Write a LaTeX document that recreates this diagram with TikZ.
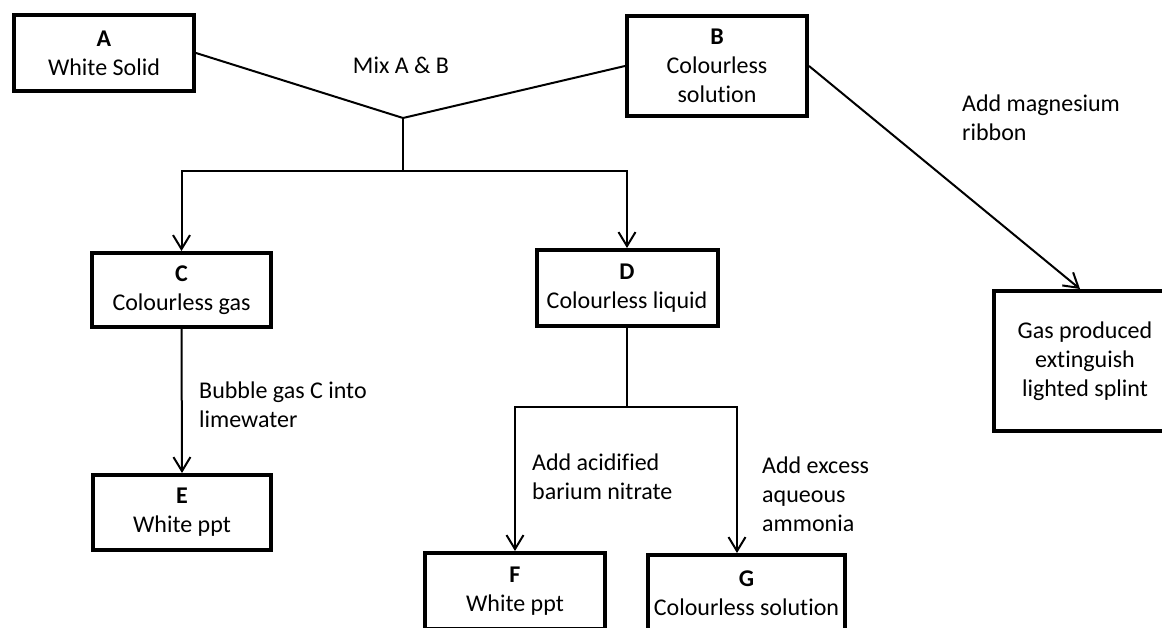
\documentclass[tikz,border=0pt]{standalone}
\usepackage{fontspec}
\setmainfont{Carlito}[Ligatures=NoCommon]
\usetikzlibrary{arrows.meta,positioning,calc}
\tikzset{
  stagebox/.style={draw=black,line width=4pt,align=center,inner sep=0pt,
    font=\fontsize{24}{29}\selectfont},
  flowline/.style={line width=2pt,draw=black},
  flowarrow/.style={-{Straight Barb[length=14pt,width=17pt,line width=2pt]},
    line width=2pt,draw=black},
  steplabel/.style={align=left,inner sep=0pt,anchor=west,
    font=\fontsize{24}{29}\selectfont},
}
\begin{document}
\begin{tikzpicture}[x=1pt,y=-1pt]
  \useasboundingbox (0,0) rectangle (1162,628);
  \node[stagebox,minimum width=180pt,minimum height=76pt] (solidA) at (104,53)
    {\textbf{A}\\White Solid};
  \node[stagebox,minimum width=180pt,minimum height=100pt] (solnB) at (717,66)
    {\textbf{B}\\Colourless\\solution};
  \node[stagebox,minimum width=179pt,minimum height=74pt] (gasC) at (181.5,290)
    {\textbf{C}\\Colourless gas};
  \node[stagebox,minimum width=181pt,minimum height=76pt] (liqD) at (627,288)
    {\textbf{D}\\Colourless liquid};
  \node[stagebox,minimum width=178pt,minimum height=75pt] (pptE) at (182,512.5)
    {\textbf{E}\\White ppt};
  \node[stagebox,minimum width=180pt,minimum height=76pt] (pptF) at (515,591)
    {\textbf{F}\\White ppt};
  \node[stagebox,minimum width=197pt,minimum height=76pt] (solnG) at (746.5,593)
    {\textbf{G}\\Colourless solution};
  \node[stagebox,minimum width=182pt,minimum height=140pt] (splint) at (1085,361)
    {Gas produced\\extinguish\\lighted splint};
  \coordinate (mix) at (403,118);
  \coordinate (split) at (403,171);
  \coordinate (dsplit) at (627,407);
  \draw[flowline] (solidA.east) -- (mix) -- (solnB.west);
  \draw[flowline] (mix) -- (split);
  \draw[flowarrow] (split) -| (gasC.north);
  \draw[flowarrow] (split) -| (liqD.north);
  \draw[flowarrow] (gasC.south) -- (pptE.north);
  \draw[flowline] (liqD.south) -- (dsplit);
  \draw[flowarrow] (dsplit) -| (pptF.north);
  \draw[flowarrow] (dsplit) -| ([xshift=-9.5pt]solnG.north);
  \draw[flowarrow] (solnB.east) -- ([xshift=-5pt]splint.north);
  \node[font=\fontsize{24}{29}\selectfont,inner sep=0pt] (mixlabel) at (401,65) {Mix A \& B};
  \node[steplabel] (mglabel) at (962,118) {Add magnesium\\ribbon};
  \node[steplabel] (bubblelabel) at (199,405) {Bubble gas C into\\limewater};
  \node[steplabel] (bariumlabel) at (532,477) {Add acidified\\barium nitrate};
  \node[steplabel] (ammonialabel) at (762,494) {Add excess\\aqueous\\ammonia};
\end{tikzpicture}
\end{document}
